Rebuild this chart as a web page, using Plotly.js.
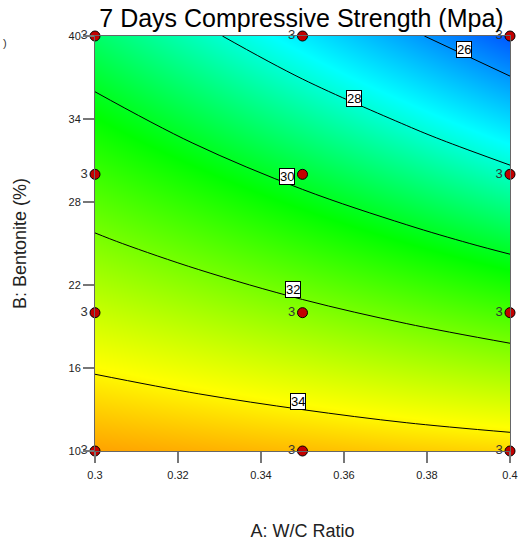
<!DOCTYPE html>
<html>
<head>
<meta charset="utf-8">
<script src="https://cdn.plot.ly/plotly-3.0.1.min.js"></script>
<style>html,body{margin:0;padding:0;background:#fff;}#chart{width:518px;height:545px;}</style>
</head>
<body>
<div id="chart"></div>
<script>
const wcRatio = [0.3, 0.325, 0.35, 0.375, 0.4];
const bentonite = [10, 17.5, 25, 32.5, 40];
const strength = [
  [35.08, 34.92, 34.75, 34.57, 34.42],
  [33.62, 33.25, 32.87, 32.48, 32.09],
  [32.15, 31.58, 30.98, 30.38, 29.76],
  [30.68, 29.90, 29.10, 28.29, 27.43],
  [29.21, 28.23, 27.22, 26.19, 25.10]
];
// Design points and their replicate counts
const designA = [0.3, 0.35, 0.4, 0.3, 0.35, 0.4, 0.3, 0.35, 0.4, 0.3, 0.35, 0.4];
const designB = [40, 40, 40, 30, 30, 30, 20, 20, 20, 10, 10, 10];
const replicates = ['3','3','3','3','3','3','3','3','3','3','3','3'];
// Contour levels and where their labels sit
const levels = [26, 28, 30, 32, 34];
const labelA = [0.3888, 0.3625, 0.3463, 0.3476, 0.3489];
const labelB = [39.06, 35.47, 29.82, 21.66, 13.60];
// Axis ticks
const xTicks = [0.3, 0.32, 0.34, 0.36, 0.38, 0.4];
const xTickText = ['0.3', '0.32', '0.34', '0.36', '0.38', '0.4'];
const yTicks = [10, 16, 22, 28, 34, 40];

const FONT = 'Arial, Liberation Sans, sans-serif';
const cscale = [
  [0.0, 'rgb(0,80,255)'],
  [0.25, 'rgb(0,255,255)'],
  [0.53, 'rgb(0,255,0)'],
  [0.88, 'rgb(255,255,0)'],
  [1.0, 'rgb(255,160,0)']
];

const traces = [
  {
    type: 'heatmap', x: wcRatio, y: bentonite, z: strength,
    zsmooth: 'best', colorscale: cscale, zmin: 25, zmax: 35.1,
    showscale: false, hoverinfo: 'skip'
  },
  {
    type: 'contour', x: wcRatio, y: bentonite, z: strength,
    showscale: false, hoverinfo: 'skip',
    contours: {coloring: 'none', start: levels[0], end: levels[levels.length - 1], size: levels[1] - levels[0], showlabels: false},
    line: {color: '#000', width: 1, smoothing: 1.0}
  },
  {
    type: 'scatter', mode: 'markers+text', x: designA, y: designB,
    text: replicates, textposition: 'middle left',
    textfont: {family: FONT, size: 13, color: '#333'},
    marker: {size: 10, color: 'rgb(195,0,0)', line: {color: '#000', width: 1}},
    cliponaxis: false, hoverinfo: 'skip', showlegend: false
  }
];

const annotations = levels.map((lv, i) => ({
  x: labelA[i], y: labelB[i], xref: 'x', yref: 'y', text: String(lv), showarrow: false,
  font: {family: FONT, size: 13, color: '#000'},
  bgcolor: '#fff', bordercolor: '#000', borderwidth: 1, borderpad: 0
}));
annotations.push({
  xref: 'paper', yref: 'paper', x: -0.2157, y: 0.983, xanchor: 'center', yanchor: 'middle',
  text: ')', showarrow: false,
  font: {family: FONT, size: 11, color: '#333'}
});

const layout = {
  width: 518, height: 545,
  margin: {l: 95, r: 8, t: 36, b: 94, pad: 0},
  paper_bgcolor: '#fff', plot_bgcolor: '#fff',
  showlegend: false,
  title: {
    text: '7 Days Compressive Strength (Mpa)',
    font: {family: FONT, size: 25, color: '#000'},
    x: 0.582, xanchor: 'center', y: 1 - 18 / 545, yanchor: 'middle', yref: 'container'
  },
  xaxis: {
    range: [0.3, 0.4], tickvals: xTicks, ticktext: xTickText,
    ticks: 'outside', ticklen: 11, tickwidth: 1.5, tickcolor: '#777',
    ticklabelstandoff: 3,
    tickfont: {family: FONT, size: 11, color: '#222'},
    showgrid: false, zeroline: false, showline: true, mirror: true, linecolor: '#666', linewidth: 1,
    title: {text: 'A: W/C Ratio', standoff: 44, font: {family: FONT, size: 18, color: '#222'}}
  },
  yaxis: {
    range: [10, 40], tickvals: yTicks,
    ticks: 'outside', ticklen: 11, tickwidth: 1.5, tickcolor: '#777',
    tickfont: {family: FONT, size: 11, color: '#222'},
    showgrid: false, zeroline: false, showline: true, mirror: true, linecolor: '#666', linewidth: 1,
    title: {text: 'B: Bentonite (%)', standoff: 37, font: {family: FONT, size: 18, color: '#222'}}
  },
  annotations: annotations
};

Plotly.newPlot('chart', traces, layout, {displayModeBar: false, staticPlot: true});
</script>
</body>
</html>
